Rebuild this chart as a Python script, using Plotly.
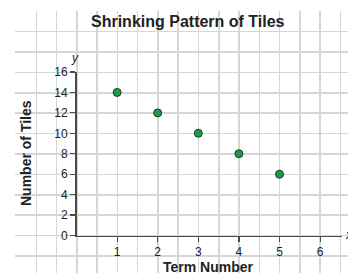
import plotly.graph_objects as go

# Data
term_number = [1, 2, 3, 4, 5]
num_tiles = [14, 12, 10, 8, 6]
x_tick_vals = [1, 2, 3, 4, 5, 6]
y_tick_vals = [0, 2, 4, 6, 8, 10, 12, 14, 16]

# Target picture size (reference) and rendered figure height
REF_W, REF_H = 348, 273
W, H = 348, 280
SY = H / REF_H            # vertical compensation factor

def vy(ref_py):
    """reference vertical pixel -> figure pixel"""
    return ref_py * SY

ML, MT = 15, vy(11)
PW, PH = W - ML, H - MT

# reference pixel geometry of the data axes
x0_px, xu_px = 76.5, 40.6          # x=0 position, px per unit
y0_ref, y16_ref = 235.5, 72.0      # y=0 and y=16 positions (reference px)
x_end = 6.54

y0_px = vy(y0_ref)
yu_px = (vy(y0_ref) - vy(y16_ref)) / 16

def px_to_paper_x(px):
    return (px - ML) / PW

def px_to_paper_y(py):
    return (H - py) / PH

grid_color = "#d6d6d6"
axis_color = "#4a4a4a"
text_color = "#222222"
font_family = "Liberation Sans, Arial, sans-serif"

fig = go.Figure()

# background grid subplot
fig.add_trace(go.Scatter(x=[None], y=[None], xaxis="x", yaxis="y",
                         showlegend=False, hoverinfo="skip"))

# data
fig.add_trace(go.Scatter(
    x=term_number, y=num_tiles, xaxis="x2", yaxis="y2", mode="markers",
    marker=dict(size=8, color="#1d9a46", line=dict(color="#1f3f2a", width=1)),
    showlegend=False, cliponaxis=False,
))

gx_left = (ML - x0_px) / xu_px
gx_right = (W - x0_px) / xu_px
gy_top = (y0_px - MT) / yu_px
gy_bottom = (y0_px - H) / yu_px

fig.update_layout(
    width=W, height=H, autosize=False,
    margin=dict(l=ML, r=0, t=MT, b=0, pad=0),
    paper_bgcolor="white",
    plot_bgcolor="rgba(0,0,0,0)",
    font=dict(family=font_family, color=text_color, size=12),
    xaxis=dict(domain=[0, 1], range=[gx_left - 0.01, gx_right], tick0=0, dtick=0.5,
               showgrid=True, gridcolor=grid_color, gridwidth=1.5,
               showticklabels=False, ticks="", zeroline=False, showline=False,
               fixedrange=True),
    yaxis=dict(domain=[0, 1], range=[gy_bottom, gy_top + 0.05], tick0=0, dtick=2,
               showgrid=True, gridcolor=grid_color, gridwidth=1.5,
               showticklabels=False, ticks="", zeroline=False, showline=False,
               fixedrange=True),
    xaxis2=dict(domain=[px_to_paper_x(x0_px), px_to_paper_x(x0_px + x_end * xu_px)],
                range=[0, x_end], anchor="y2", tickvals=x_tick_vals,
                showgrid=False, zeroline=False, showline=True, linecolor=axis_color,
                linewidth=1.5, ticks="outside", ticklen=5, tickwidth=1.2,
                tickcolor=axis_color, tickfont=dict(size=12, color=text_color),
                fixedrange=True),
    yaxis2=dict(domain=[px_to_paper_y(y0_px), px_to_paper_y(vy(y16_ref))],
                range=[0, 16], anchor="x2", tickvals=y_tick_vals,
                showgrid=False, zeroline=False, showline=True, linecolor=axis_color,
                linewidth=1.5, ticks="outside", ticklen=5, tickwidth=1.2,
                tickcolor=axis_color, tickfont=dict(size=12, color=text_color),
                fixedrange=True),
)

annotations = [
    dict(text="<b>Shrinking Pattern of Tiles</b>", x=px_to_paper_x(188), y=px_to_paper_y(vy(21)),
         xref="paper", yref="paper", xanchor="center", yanchor="middle",
         showarrow=False, font=dict(size=16, color=text_color)),
    dict(text="<b>Term Number</b>", x=px_to_paper_x(208), y=px_to_paper_y(vy(266.5)),
         xref="paper", yref="paper", xanchor="center", yanchor="middle",
         showarrow=False, font=dict(size=14, color=text_color)),
    dict(text="<b>Number of Tiles</b>", x=px_to_paper_x(26), y=px_to_paper_y(vy(153)),
         xref="paper", yref="paper", xanchor="center", yanchor="middle", textangle=-90,
         showarrow=False, font=dict(size=14, color=text_color)),
    dict(text="<i>y</i>", x=px_to_paper_x(75), y=px_to_paper_y(vy(58)),
         xref="paper", yref="paper", xanchor="center", yanchor="middle",
         showarrow=False, font=dict(size=12, color=text_color)),
    dict(text="<i>x</i>", x=px_to_paper_x(343), y=px_to_paper_y(vy(235)),
         xref="paper", yref="paper", xanchor="left", yanchor="middle",
         showarrow=False, font=dict(size=12, color=text_color)),
]
fig.update_layout(annotations=annotations)

fig.write_html(
    "out.html",
    config={"displayModeBar": False, "responsive": False, "staticPlot": True},
    post_script=(
        "document.documentElement.style.margin='0px';"
        "document.documentElement.style.overflow='hidden';"
        "document.body.style.margin='0px';"
        "document.body.style.padding='0px';"
        "document.body.style.overflow='hidden';"
    ),
)
